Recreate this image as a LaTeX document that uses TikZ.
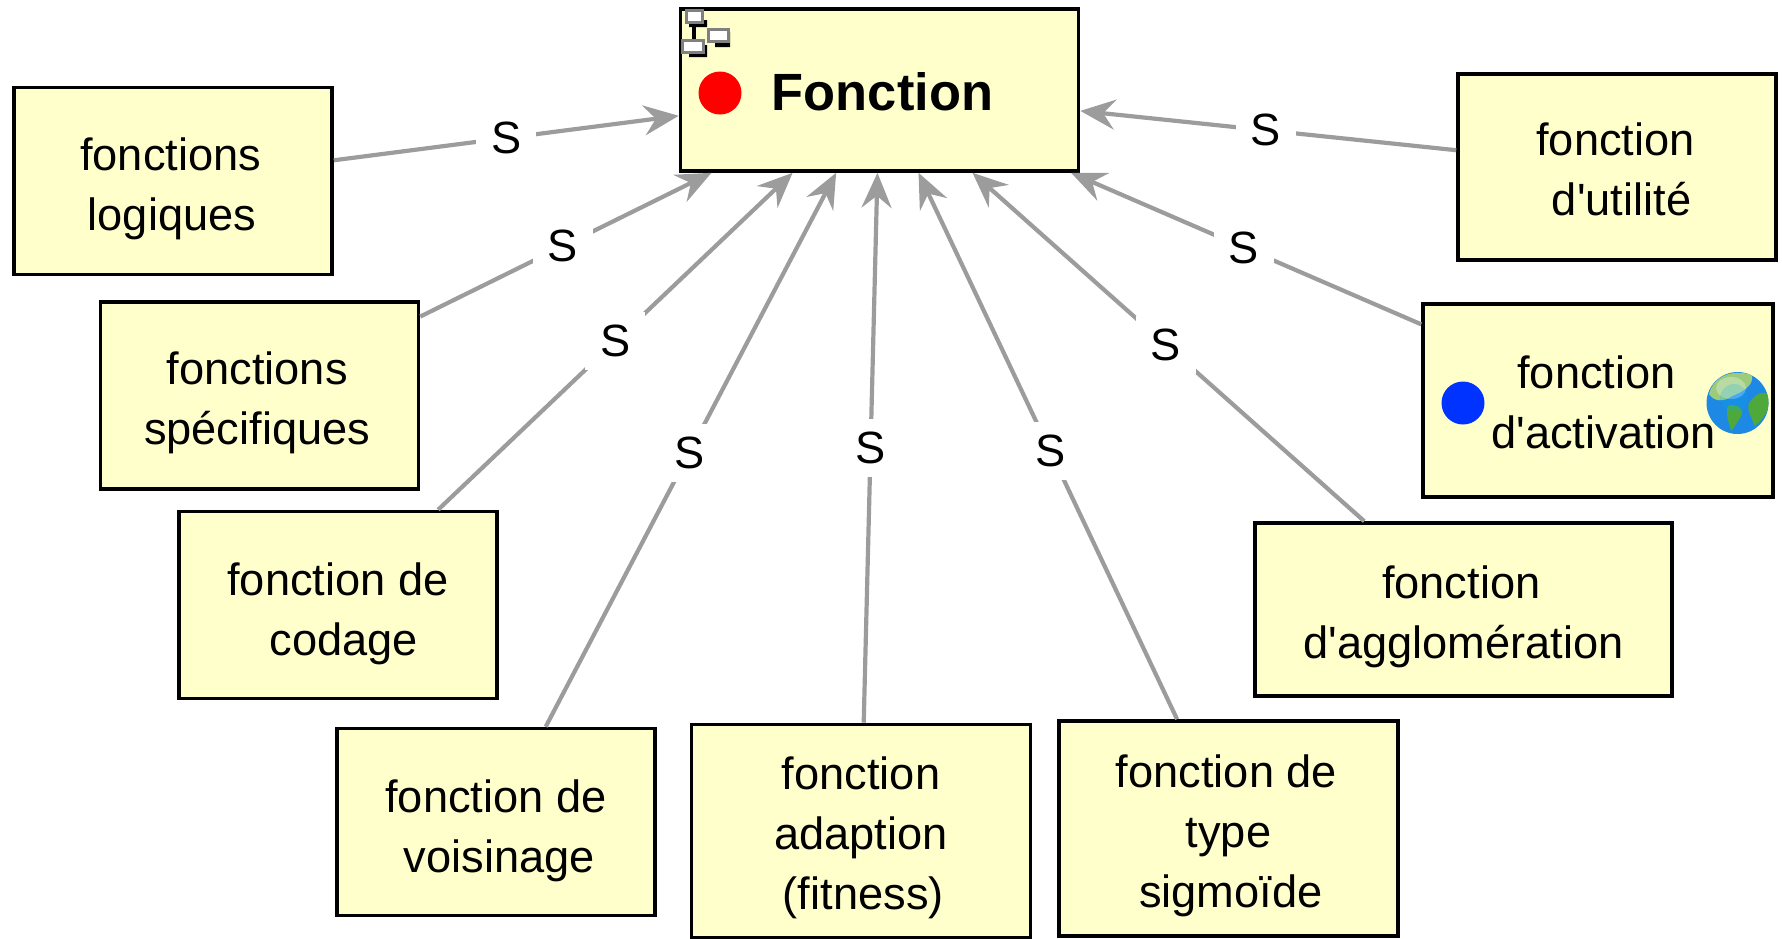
\documentclass[tikz,border=0pt]{standalone}
\usepackage{fontspec}
\setmainfont{Liberation Sans}[Ligatures=TeXOff]
\usetikzlibrary{arrows.meta}
\definecolor{boxfill}{HTML}{FFFFCC}
\definecolor{linkgray}{HTML}{9C9C9C}
\definecolor{ocean}{HTML}{1E88E5}
\definecolor{landpale}{HTML}{9CCB7C}
\definecolor{landdark}{HTML}{4FA83A}
\newcommand{\dn}[1]{\rule{0pt}{#1pt}}
\newcommand{\lh}[1]{\hspace*{#1pt}}
\tikzset{
  x=0.5pt,y=-0.5pt,
  box/.style={draw=black,line width=1.8pt,fill=boxfill,inner sep=0pt,align=center,font=\fontsize{22.6}{30}\selectfont},
  stdbox/.style={box,minimum width=159pt,minimum height=93.5pt},
  link/.style={draw=linkgray,line width=2.1pt,-{Stealth[length=17.5pt,width=15pt,inset=6pt,fill=linkgray]}},
  slabel/.style={fill=white,inner sep=1.5pt,minimum width=30pt,minimum height=29pt,text=black,font=\fontsize{22.6}{26}\selectfont},
  icoframe/.style={draw=gray,line width=1.6pt,fill=white,inner sep=0pt},
}
\begin{document}
\begin{tikzpicture}
\useasboundingbox (0,0) rectangle (1782,938);
\node[box,minimum width=199pt,minimum height=81pt,font=\fontsize{26.2}{30}\selectfont\bfseries] (f) at (879.5,90) {\dn{21.2}\lh{3}Fonction};
\node[stdbox] (a) at (173,181) {\dn{24.4}fonctions\lh{2.3}\\logiques\lh{1.1}};
\node[stdbox] (b) at (259.5,395.5) {\dn{23.2}fonctions\lh{2.3}\\spécifiques\lh{2.3}};
\node[stdbox] (c) at (338,605) {\dn{25}fonction de\\\lh{5.7}codage};
\node[stdbox] (d) at (496,822) {\dn{25.4}fonction de\\\lh{3.4}voisinage};
\node[box,minimum width=169.5pt,minimum height=106.5pt] (e) at (861,831) {\dn{23.2}fonction\\adaption\lh{6}\\\lh{2.3}(fitness)};
\node[box,minimum width=169.5pt,minimum height=107.5pt] (g) at (1228.5,828.5) {\dn{23.2}fonction de\lh{2}\\type\\\lh{2.3}sigmoïde};
\node[box,minimum width=208.5pt,minimum height=86.5pt] (h) at (1463.5,609.5) {\dn{23.2}fonction\lh{2.3}\\d'agglomération};
\node[box,minimum width=175pt,minimum height=96.5pt] (i) at (1598,400.5) {\dn{18.6}\lh{4.5}fonction\lh{6}\\\lh{5.7}d'activation};
\node[box,minimum width=159pt,minimum height=93pt] (j) at (1617,167) {\dn{19.2}\lh{4.5}fonction\lh{6}\\\lh{4.5}d'utilité};
\foreach \s/\p in {a/.5,b/.49,c/.5,d/.495,e/.5,g/.491,h/.507,i/.507,j/.506}
  \draw[link] (\s) -- (f) node[slabel,pos=\p] (s\s) {S};
% icons
\node[circle,fill=red,inner sep=0pt,minimum size=21.5pt] (reddot) at (720,93) {};
\node[circle,fill=blue!80!cyan,inner sep=0pt,minimum size=21.5pt] (bluedot) at (1463,403) {};
% tree icon
\fill[black] (689,20) rectangle (707,27) (715,32) rectangle (730,47) (689,45) rectangle (707,57);
\fill[black] (692,27) rectangle (696,40);
\node[icoframe,minimum width=8pt,minimum height=6pt] (ict) at (694.5,16.5) {};
\node[icoframe,minimum width=10pt,minimum height=6pt] (icu) at (718.5,35.5) {};
\node[icoframe,minimum width=10.5pt,minimum height=6pt] (icv) at (693,46.5) {};
% globe
\node[circle,inner sep=0pt,minimum size=31pt,fill=ocean] (globe) at (1737.5,403) {};
\begin{scope}
\clip (1737.5,403) circle[radius=31];
\fill[landpale] (1709,394) .. controls (1713,378) and (1730,368) .. (1752,375) .. controls (1754,386) and (1742,392) .. (1732,396) .. controls (1724,402) and (1714,402) .. (1709,394) -- cycle;
\fill[landdark] (1728,406) .. controls (1735,403) and (1743,407) .. (1742,414) .. controls (1739,420) and (1735,426) .. (1731,431) .. controls (1729,422) and (1725,414) .. (1728,406) -- cycle;
\fill[landdark] (1749,403) .. controls (1754,396) and (1762,388) .. (1770,396) .. controls (1771,408) and (1762,422) .. (1754,426) .. controls (1752,416) and (1746,410) .. (1749,403) -- cycle;
\fill[white,opacity=.3] (1731,388) ellipse[x radius=15,y radius=11];
\fill[cyan,opacity=.2] (1734,398) circle[radius=14];
\end{scope}
\end{tikzpicture}
\end{document}
